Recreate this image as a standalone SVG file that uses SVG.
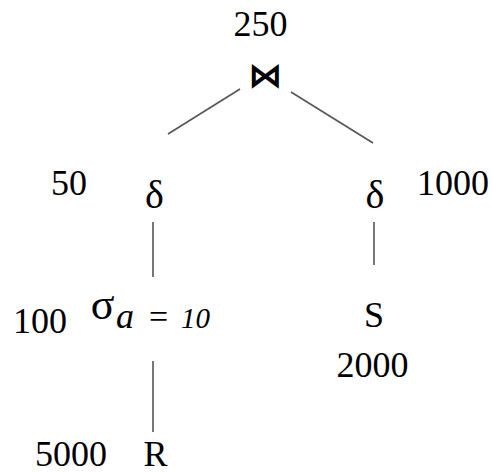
<svg xmlns="http://www.w3.org/2000/svg" width="493" height="474" viewBox="0 0 493 474">
<style>
.t{font-family:"Liberation Serif","Times New Roman",serif;font-size:36px;fill:#000}
.m{text-anchor:middle}
.d{font-size:40px}
.e{stroke:#555;stroke-width:1.6;fill:none}
</style>
<rect width="493" height="474" fill="#fff"/>
<g id="connectors">
<line class="e" x1="240" y1="89" x2="168" y2="134"/>
<line class="e" x1="291" y1="92" x2="373" y2="143"/>
<line class="e" x1="153" y1="222" x2="153" y2="277"/>
<line class="e" x1="374" y1="222" x2="374" y2="265"/>
<line class="e" x1="153" y1="361" x2="153" y2="432"/>
</g>
<g id="join">
<text class="t m" x="260.5" y="36">250</text>
<text x="265" y="87" text-anchor="middle" style="font-family:'DejaVu Sans',sans-serif;font-size:34px;font-weight:bold">⋈</text>
</g>
<g id="dedupL">
<text class="t m" x="69" y="195">50</text>
<text class="t m d" x="154.5" y="208">δ</text>
</g>
<g id="dedupR">
<text class="t m d" x="375" y="208">δ</text>
<text class="t m" x="453" y="195">1000</text>
</g>
<g id="select">
<text class="t m" x="40" y="333">100</text>
<text class="t m" x="102.5" y="319" style="font-size:44px">σ</text>
<text class="t" y="328" style="font-style:italic"><tspan x="116" style="font-size:36px">a</tspan><tspan x="149" style="font-size:34px;font-style:normal">=</tspan><tspan x="181" style="font-size:29px">10</tspan></text>
</g>
<g id="S">
<text class="t m" x="374" y="327">S</text>
<text class="t m" x="372.5" y="377">2000</text>
</g>
<g id="R">
<text class="t m" x="71" y="466">5000</text>
<text class="t m" x="155.5" y="466">R</text>
</g>
</svg>
